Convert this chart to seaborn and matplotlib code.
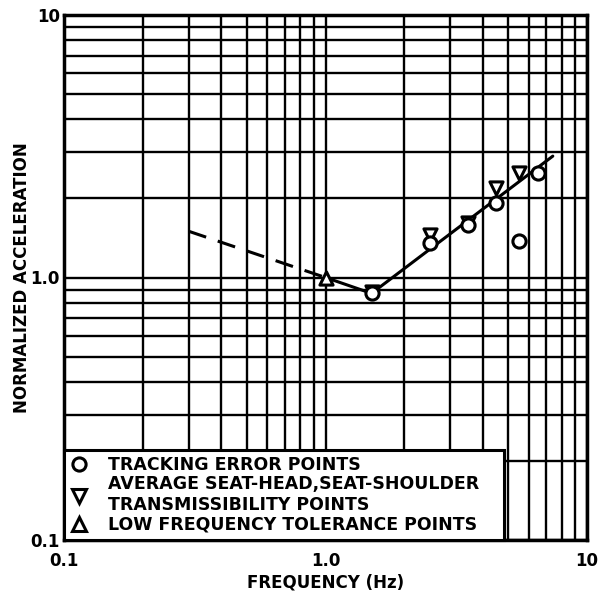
import numpy as np
import pandas as pd
import matplotlib
matplotlib.use("Agg")
import matplotlib.pyplot as plt
from matplotlib.lines import Line2D
from matplotlib.ticker import LogLocator, NullFormatter
import seaborn as sns

# Measured points
tracking_freq = [1.5, 2.5, 3.5, 4.5, 5.5, 6.5]
tracking_acc = [0.87, 1.35, 1.58, 1.92, 1.38, 2.5]
transmiss_freq = [1.5, 2.5, 3.5, 4.5, 5.5]
transmiss_acc = [0.88, 1.45, 1.62, 2.2, 2.5]
tolerance_freq = [1.0]
tolerance_acc = [1.0]

# Fitted curve and its low-frequency extrapolation
curve_freq = [1.0, 1.5, 7.4]
curve_acc = [1.0, 0.87, 2.9]
extrap_freq = [0.3, 1.0]
extrap_acc = [1.5, 1.0]

x_ticks = [0.1, 1.0, 10.0]
x_tick_labels = ["0.1", "1.0", "10"]
y_ticks = [0.1, 1.0, 10.0]
y_tick_labels = ["0.1", "1.0", "10"]

legend_labels = [
    "TRACKING ERROR POINTS",
    "AVERAGE SEAT-HEAD,SEAT-SHOULDER\nTRANSMISSIBILITY POINTS",
    "LOW FREQUENCY TOLERANCE POINTS",
]

sns.set_style("white")
plt.rcParams["font.family"] = ["DejaVu Sans"]
plt.rcParams["font.weight"] = "bold"
plt.rcParams["text.color"] = "black"
plt.rcParams["axes.labelcolor"] = "black"
plt.rcParams["xtick.color"] = "black"
plt.rcParams["ytick.color"] = "black"
plt.rcParams["xtick.labelcolor"] = "black"
plt.rcParams["ytick.labelcolor"] = "black"

fig = plt.figure(figsize=(5.98, 5.97), dpi=100)
ax = fig.add_axes([64 / 598, 57 / 597, 523 / 598, 525 / 597])

ax.set_xscale("log")
ax.set_yscale("log")
ax.set_xlim(0.1, 10)
ax.set_ylim(0.1, 10)

curve_df = pd.DataFrame({"freq": curve_freq, "acc": curve_acc})
extrap_df = pd.DataFrame({"freq": extrap_freq, "acc": extrap_acc})
sns.lineplot(data=curve_df, x="freq", y="acc", ax=ax, color="black",
             lw=2.2, sort=False, zorder=3)
sns.lineplot(data=extrap_df, x="freq", y="acc", ax=ax, color="black",
             lw=2.2, sort=False, zorder=3, dashes=False,
             linestyle=(0, (6, 4)))

marker_kw = dict(facecolor="white", edgecolor="black", linewidth=2.2,
                 s=90, zorder=4, legend=False)
sns.scatterplot(x=transmiss_freq, y=transmiss_acc, marker="v", ax=ax, **marker_kw)
sns.scatterplot(x=tracking_freq, y=tracking_acc, marker="o", ax=ax, **marker_kw)
sns.scatterplot(x=tolerance_freq, y=tolerance_acc, marker="^", ax=ax, **marker_kw)

# Log-paper grid
ax.xaxis.set_minor_locator(LogLocator(base=10, subs=range(2, 10)))
ax.yaxis.set_minor_locator(LogLocator(base=10, subs=range(2, 10)))
ax.xaxis.set_minor_formatter(NullFormatter())
ax.yaxis.set_minor_formatter(NullFormatter())
ax.set_axisbelow(True)
ax.grid(which="both", color="black", lw=1.7)

ax.set_xticks(x_ticks)
ax.set_xticklabels(x_tick_labels)
ax.set_yticks(y_ticks)
ax.set_yticklabels(y_tick_labels)
ax.tick_params(which="both", length=0, labelsize=12, labelcolor="black")
ax.tick_params(axis="x", pad=9)
ax.tick_params(axis="y", pad=3)
for lab in ax.get_xticklabels() + ax.get_yticklabels():
    lab.set_fontweight("bold")

for sp in ax.spines.values():
    sp.set_color("black")
    sp.set_linewidth(2.5)

ax.set_xlabel("FREQUENCY (Hz)", fontsize=12, fontweight="bold", labelpad=2,
              color="black")
ax.set_ylabel("NORMALIZED ACCELERATION", fontsize=12, fontweight="bold",
              color="black")
ax.yaxis.set_label_coords(-0.064, 0.5)

handle_kw = dict(ls="none", mfc="white", mec="black", mew=2.2, ms=9.5)
handles = [
    Line2D([], [], marker="o", **handle_kw),
    Line2D([], [], marker="v", **handle_kw),
    Line2D([], [], marker="^", **handle_kw),
]
leg = ax.legend(handles, legend_labels, loc="lower left",
                bbox_to_anchor=(0, 0, 440 / 523, 0.18), mode="expand",
                borderaxespad=0, frameon=True,
                fancybox=False, framealpha=1, edgecolor="black",
                prop=dict(weight="bold", size=12.5), handlelength=1.0,
                handletextpad=1.2, labelspacing=0.1, borderpad=0.35,
                labelcolor="black")
leg.get_frame().set_linewidth(2.2)

fig.savefig("out.png", dpi=100, facecolor="white")
